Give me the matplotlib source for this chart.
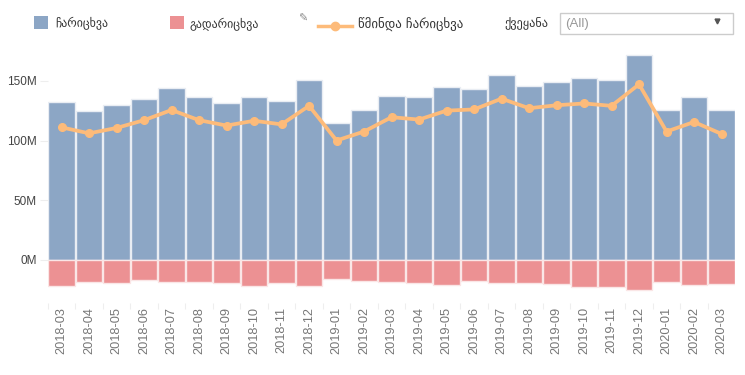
import matplotlib
matplotlib.use('Agg')
import matplotlib.pyplot as plt
from matplotlib.patches import Rectangle
from matplotlib.lines import Line2D

months = ['2018-03', '2018-04', '2018-05', '2018-06', '2018-07', '2018-08', '2018-09',
          '2018-10', '2018-11', '2018-12', '2019-01', '2019-02', '2019-03', '2019-04',
          '2019-05', '2019-06', '2019-07', '2019-08', '2019-09', '2019-10', '2019-11',
          '2019-12', '2020-01', '2020-02', '2020-03']
incoming = [132, 124.5, 130, 135, 144, 136, 131, 136.5, 133, 150.5, 115, 125.5, 137,
            136.5, 145, 143, 155, 146, 149, 152, 150.5, 171.5, 125.5, 136.5, 125.5]
outgoing = [-21.5, -18, -19.5, -17, -18, -18, -19.5, -21.5, -19.5, -21.5, -15.5, -17.5,
            -18.5, -19.5, -21, -17.5, -19.5, -19.5, -20.5, -22.5, -22.5, -25, -18, -21, -20.5]
net = [111, 106, 110.5, 117, 125.5, 117, 112.5, 116.5, 113.5, 129, 100, 107.5, 119.5,
       117.5, 125, 126, 135, 127, 129.5, 131, 129, 147, 107.5, 115.5, 105.5]
yticks = [0, 50, 100, 150]
ylabels = ['0M', '50M', '100M', '150M']

W, H = 745, 375
BLUE = '#8ca6c5'
PINK = '#ec9193'
ORANGE = '#fdbb7a'
GREY = '#777777'

fig = plt.figure(figsize=(W / 100, H / 100), dpi=100)
plt.rcParams['font.family'] = ['DejaVu Sans']

# axes placed by pixels so 0M sits at y=260 and 1M is about 1.195px
top, bottom = 45, 303
ax = fig.add_axes([47.8 / W, 1 - bottom / H, (735.3 - 47.8) / W, (bottom - top) / H])
ax.set_xlim(-0.5, len(months) - 0.5)
ax.set_ylim((260 - bottom) / 1.195, (260 - top) / 1.195)

x = range(len(months))
ax.bar(x, incoming, width=0.96, color=BLUE, edgecolor='#e9edf3', linewidth=1.0)
ax.bar(x, outgoing, width=0.96, color=PINK, edgecolor='#fae6e6', linewidth=1.0)
ax.plot(x, net, color=ORANGE, lw=2.7, marker='o', ms=5.5, solid_joinstyle='round')

for s in ax.spines.values():
    s.set_visible(False)
ax.set_yticks(yticks)
ax.set_yticklabels(ylabels, fontfamily='Liberation Sans', fontsize=8.5, color='#444444')
ax.set_xticks([i - 0.5 for i in x])
ax.set_xticklabels([])
ax.set_xticks(list(x), minor=True)
ax.set_xticklabels(months, minor=True, rotation=90, fontfamily='Liberation Sans',
                   fontsize=9.2, color=GREY)
ax.tick_params(axis='x', which='major', length=4, color='#eeeeee', pad=1)
ax.tick_params(axis='x', which='minor', length=0, pad=3)
ax.tick_params(axis='y', length=6, color='#eeeeee', pad=2)

# legend row and filter box, in pixel coordinates
ov = fig.add_axes([0, 0, 1, 1], facecolor='none')
ov.set_xlim(0, W)
ov.set_ylim(H, 0)
ov.axis('off')
ov.add_patch(Rectangle((34, 16), 14, 13, color=BLUE, lw=0))
ov.add_patch(Rectangle((170, 16), 14, 13, color=PINK, lw=0))
ov.add_line(Line2D([318, 352], [26, 26], color=ORANGE, lw=2.5))
ov.plot([335], [26], 'o', color=ORANGE, ms=6)
ov.text(55, 24, 'ჩარიცხვა', fontsize=8.6, color='#333333', va='center')
ov.text(190, 25, 'გადარიცხვა', fontsize=8.6, color='#333333', va='center')
ov.text(358, 25, 'წმინდა ჩარიცხვა', fontsize=9.3, color='#333333', va='center')
ov.text(504, 24, 'ქვეყანა', fontsize=8.8, color='#333333', va='center')
ov.text(298, 19, '✎', fontsize=8, color='#888888', va='center')
ov.add_patch(Rectangle((560, 13), 173, 21, fc='white', ec='#cccccc', lw=1))
ov.text(565, 24, '(All)', fontfamily='Liberation Sans', fontsize=9.5, color='#999999', va='center')
ov.plot([717], [21], marker='v', color='#555555', ms=3.5)

fig.savefig('out.png', dpi=100)
